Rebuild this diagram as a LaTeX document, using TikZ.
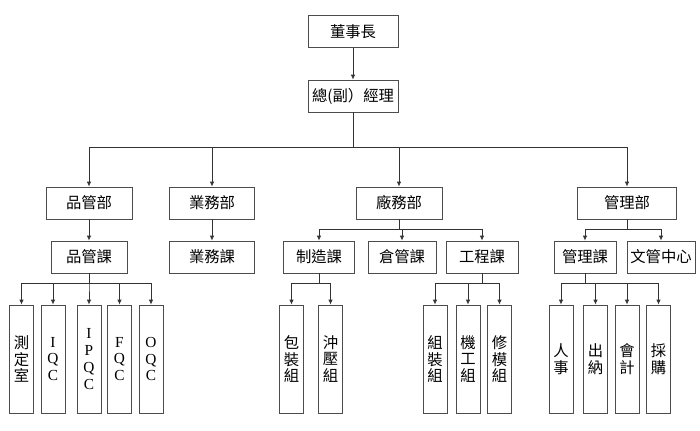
\documentclass[tikz,border=0pt]{standalone}
\usepackage{fontspec}
\setmainfont{Liberation Serif}
\newfontfamily\cjk{Noto Sans CJK TC}
\usetikzlibrary{arrows.meta, positioning, calc}

\begin{document}
\begin{tikzpicture}[
    x=0.75pt, y=-0.75pt,
    box/.style={rectangle, draw=black!70, line width=0.6pt, align=center, minimum height=24pt, inner sep=1pt, font=\cjk\fontsize{11.5}{13}\selectfont},
    tall/.style={box, minimum width=18pt, minimum height=81pt, font=\cjk\fontsize{11.5}{12.6}\selectfont},
    letterbox/.style={tall, font=\rmfamily\fontsize{11.5}{12.6}\selectfont},
    arrow/.style={-{Latex[length=1.3mm, width=1.2mm]}, draw=black!80, line width=0.6pt}
]
\useasboundingbox (0,0) rectangle (700,430);

% top
\node[box, minimum width=67.5pt] (chair) at (353,31.5) {董事長};
\node[box, minimum width=67.5pt] (gm) at (353,96) {總(副）經理};

% departments
\node[box, minimum width=64.5pt] (qcdept) at (89,203) {品管部};
\node[box, minimum width=64pt] (salesdept) at (212,203) {業務部};
\node[box, minimum width=64.5pt] (plantdept) at (399,203) {廠務部};
\node[box, minimum width=74pt] (admindept) at (627,203) {管理部};

% sections
\node[box, minimum width=57pt] (qcsec) at (89,257) {品管課};
\node[box, minimum width=64pt] (salessec) at (212,257) {業務課};
\node[box, minimum width=53pt] (mfgsec) at (319,257) {制造課};
\node[box, minimum width=51pt] (stocksec) at (402,257) {倉管課};
\node[box, minimum width=54pt] (engsec) at (482,257) {工程課};
\node[box, minimum width=46.5pt] (adminsec) at (585,257) {管理課};
\node[box, minimum width=51pt] (doccenter) at (661,257) {文管中心};

% groups
\node[tall] (measure) at (21.5,359) {測\\定\\室};
\node[letterbox] (iqc) at (53,359) {I\\Q\\C};
\node[letterbox] (ipqc) at (89,359) {I\\P\\Q\\C};
\node[letterbox] (fqc) at (119.5,359) {F\\Q\\C};
\node[letterbox] (oqc) at (151,359) {O\\Q\\C};
\node[tall] (pack) at (291.5,359) {包\\裝\\組};
\node[tall] (press) at (330.5,359) {沖\\壓\\組};
\node[tall] (assy) at (435,359) {組\\裝\\組};
\node[tall] (mach) at (468,359) {機\\工\\組};
\node[tall] (mold) at (499.5,359) {修\\模\\組};
\node[tall] (hr) at (561,359) {人\\事};
\node[tall] (cashier) at (595.5,359) {出\\納};
\node[tall] (acct) at (627,359) {會\\計};
\node[tall] (purch) at (658.5,359) {採\\購};

\draw[arrow] (chair) -- (gm);
\foreach \d in {qcdept, salesdept, plantdept, admindept}
  \draw[arrow] (gm.south) -- ++(0,35) -| (\d.north);
\draw[arrow] (qcdept) -- (qcsec);
\draw[arrow] (salesdept) -- (salessec);
\foreach \s in {mfgsec, stocksec, engsec}
  \draw[arrow] (plantdept.south) -- ++(0,10) -| (\s.north);
\foreach \s in {adminsec, doccenter}
  \draw[arrow] (admindept.south) -- ++(0,10) -| (\s.north);
\foreach \t in {measure, iqc, ipqc, fqc, oqc}
  \draw[arrow] (qcsec.south) -- ++(0,10) -| (\t.north);
\foreach \t in {pack, press}
  \draw[arrow] (mfgsec.south) -- ++(0,10) -| (\t.north);
\foreach \t in {assy, mach, mold}
  \draw[arrow] (engsec.south) -- ++(0,10) -| (\t.north);
\foreach \t in {hr, cashier, acct, purch}
  \draw[arrow] (adminsec.south) -- ++(0,10) -| (\t.north);
\end{tikzpicture}
\end{document}
